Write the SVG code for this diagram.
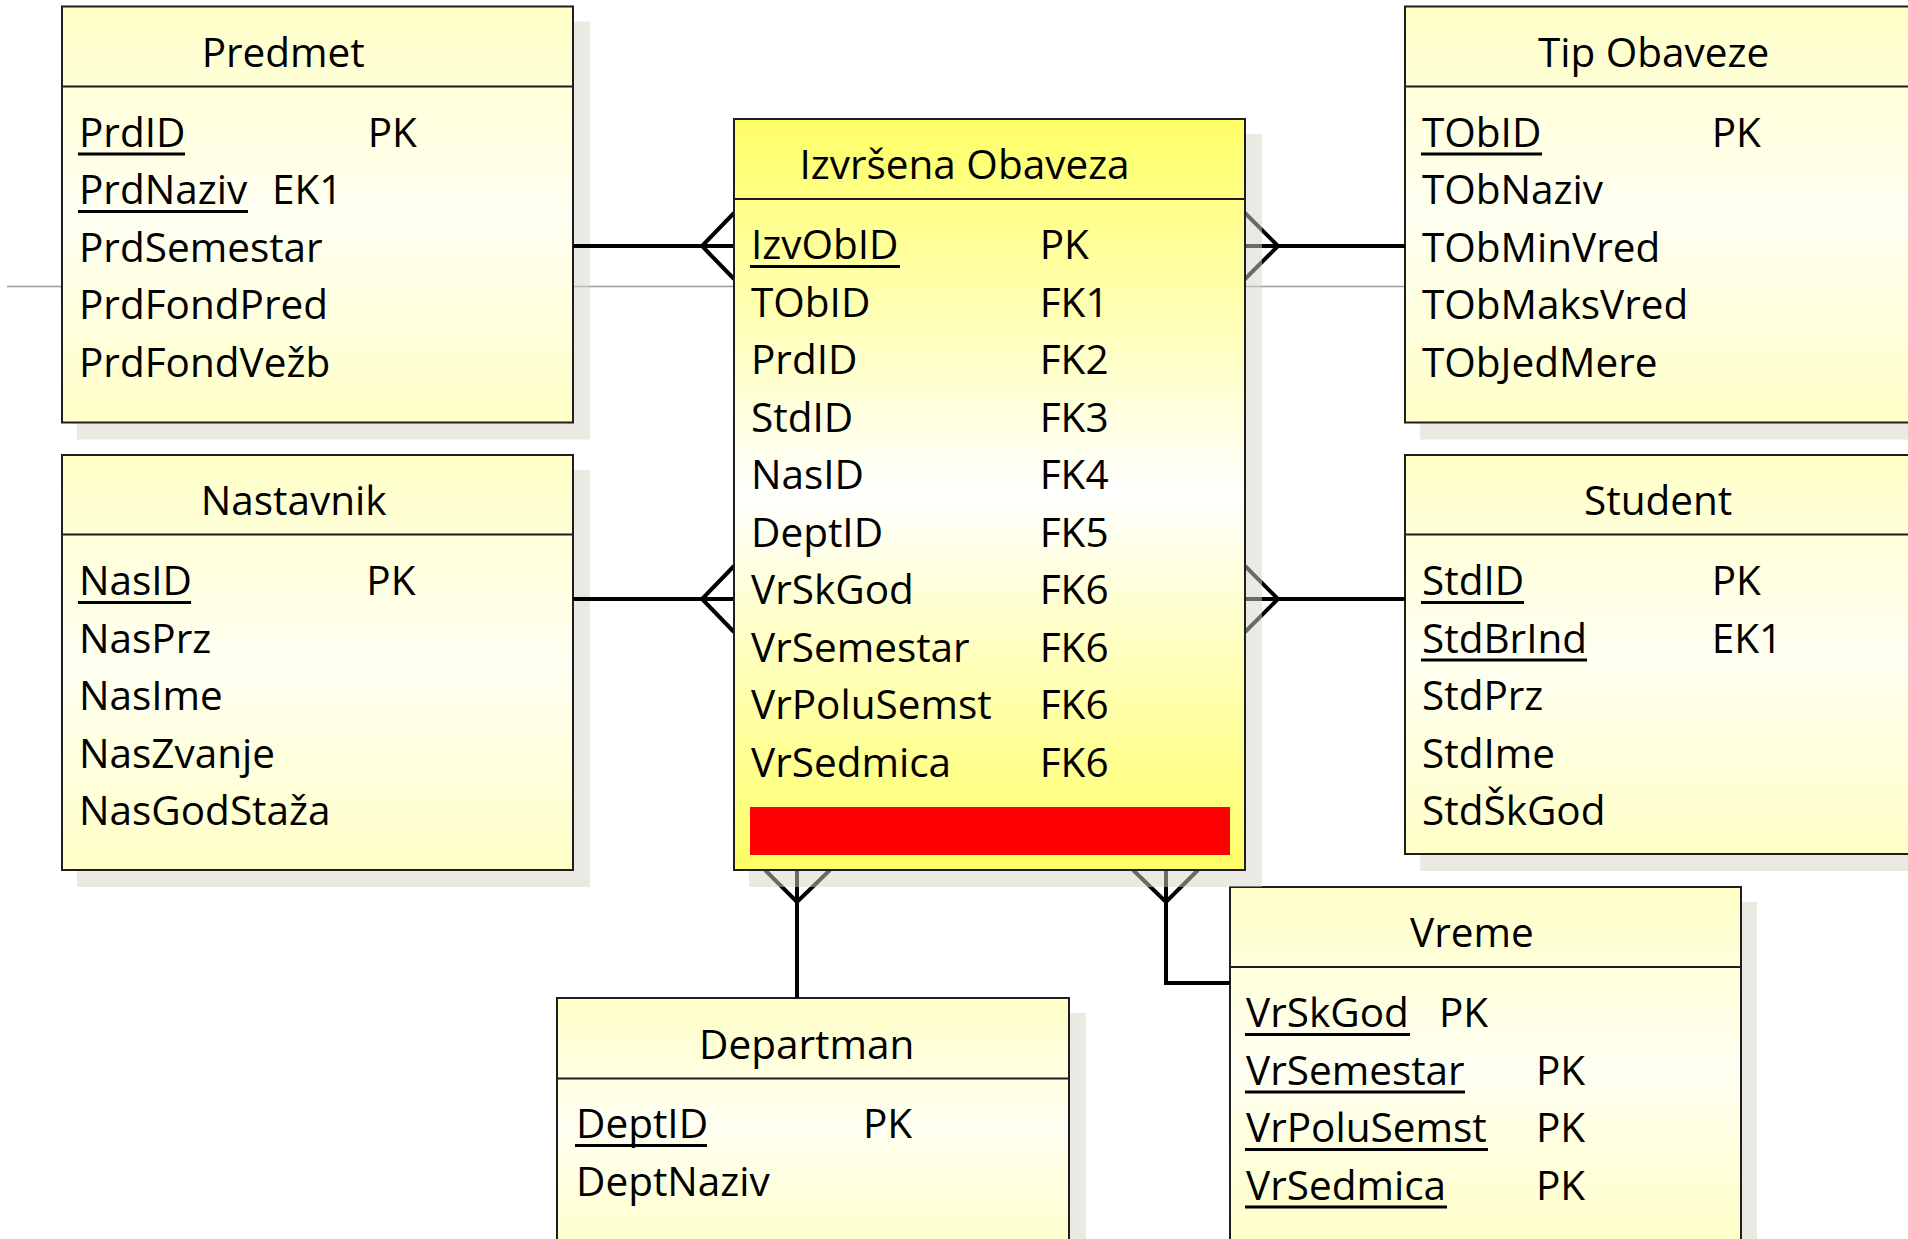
<svg xmlns="http://www.w3.org/2000/svg" width="1908" height="1239" viewBox="0 0 1908 1239">
  <defs>
    <linearGradient id="paleFill" x1="0" y1="0" x2="0" y2="1">
      <stop offset="0" stop-color="#ffffc8"/>
      <stop offset="0.5" stop-color="#fffff2"/>
      <stop offset="1" stop-color="#ffffc8"/>
    </linearGradient>
    <linearGradient id="hotFill" x1="0" y1="0" x2="0" y2="1">
      <stop offset="0" stop-color="#ffff66"/>
      <stop offset="0.5" stop-color="#ffffff"/>
      <stop offset="1" stop-color="#ffff66"/>
    </linearGradient>
    <style>
      .shadow { fill: #d6d6c8; fill-opacity: 0.5; }
      .box { stroke: #1e1e1e; stroke-width: 2; }
      .pale { fill: url(#paleFill); }
      .hot { fill: url(#hotFill); }
      .sep { stroke: #1e1e1e; stroke-width: 2; }
      text { font-family: "Open Sans", "Noto Sans", "DejaVu Sans", sans-serif; font-size: 40.5px; fill: #000; }
      .ul { stroke: #000; stroke-width: 3; }
      .conn { stroke: #000; stroke-width: 4; fill: none; stroke-linejoin: miter; stroke-linecap: butt; }
      .guide { stroke: #9c9c9c; stroke-width: 1.3; }
    </style>
  </defs>

  <rect width="1908" height="1239" fill="#ffffff"/>

  <!-- thin guide line running behind the tables -->
  <line class="guide" x1="7" y1="286.5" x2="1405" y2="286.5"/>

  <!-- Predmet -->
  <g id="predmet">
    <rect class="shadow" x="77" y="21.5" width="513" height="418"/>
    <rect class="box pale" x="62" y="6.5" width="511" height="416"/>
    <line class="sep" x1="62" y1="86.5" x2="573" y2="86.5"/>
    <text x="201.7" y="66.7">Predmet</text>
    <text x="79" y="146.5">PrdID</text>
    <line class="ul" x1="78" y1="154" x2="185" y2="154"/>
    <text x="367.7" y="146.5">PK</text>
    <text x="79" y="204">PrdNaziv</text>
    <line class="ul" x1="78" y1="211.5" x2="248" y2="211.5"/>
    <text x="272" y="204">EK1</text>
    <text x="79" y="261.5">PrdSemestar</text>
    <text x="79" y="319">PrdFondPred</text>
    <text x="79" y="376.5">PrdFondVežb</text>
  </g>

  <!-- Nastavnik -->
  <g id="nastavnik">
    <rect class="shadow" x="77" y="470" width="513" height="417"/>
    <rect class="box pale" x="62" y="455" width="511" height="415"/>
    <line class="sep" x1="62" y1="534.5" x2="573" y2="534.5"/>
    <text x="200.8" y="515">Nastavnik</text>
    <text x="79" y="595">NasID</text>
    <line class="ul" x1="78" y1="602.5" x2="191" y2="602.5"/>
    <text x="366.3" y="595">PK</text>
    <text x="79" y="652.5">NasPrz</text>
    <text x="79" y="710">NasIme</text>
    <text x="79" y="767.5">NasZvanje</text>
    <text x="79" y="825">NasGodStaža</text>
  </g>

  <!-- Tip Obaveze -->
  <g id="tip-obaveze">
    <rect class="shadow" x="1420" y="21.5" width="513" height="418"/>
    <rect class="box pale" x="1405" y="6.5" width="511" height="416"/>
    <line class="sep" x1="1405" y1="86.5" x2="1916" y2="86.5"/>
    <text x="1538" y="66.7">Tip Obaveze</text>
    <text x="1422" y="146.5">TObID</text>
    <line class="ul" x1="1421" y1="154" x2="1542" y2="154"/>
    <text x="1711.7" y="146.5">PK</text>
    <text x="1422" y="204">TObNaziv</text>
    <text x="1422" y="261.5">TObMinVred</text>
    <text x="1422" y="319">TObMaksVred</text>
    <text x="1422" y="376.5">TObJedMere</text>
  </g>

  <!-- Student -->
  <g id="student">
    <rect class="shadow" x="1420" y="470" width="513" height="401"/>
    <rect class="box pale" x="1405" y="455" width="511" height="399"/>
    <line class="sep" x1="1405" y1="534.5" x2="1916" y2="534.5"/>
    <text x="1584" y="515">Student</text>
    <text x="1422" y="595">StdID</text>
    <line class="ul" x1="1421" y1="602.5" x2="1524" y2="602.5"/>
    <text x="1711.7" y="595">PK</text>
    <text x="1422" y="652.5">StdBrInd</text>
    <line class="ul" x1="1421" y1="660" x2="1587" y2="660"/>
    <text x="1711.7" y="652.5">EK1</text>
    <text x="1422" y="710">StdPrz</text>
    <text x="1422" y="767.5">StdIme</text>
    <text x="1422" y="825">StdŠkGod</text>
  </g>

  <!-- Vreme -->
  <g id="vreme">
    <rect class="shadow" x="1244" y="902" width="513" height="362"/>
    <rect class="box pale" x="1230" y="887" width="511" height="360"/>
    <line class="sep" x1="1230" y1="967" x2="1741" y2="967"/>
    <text x="1410" y="947">Vreme</text>
    <text x="1246" y="1027">VrSkGod</text>
    <line class="ul" x1="1245" y1="1034.5" x2="1410" y2="1034.5"/>
    <text x="1439" y="1027">PK</text>
    <text x="1246" y="1084.5">VrSemestar</text>
    <line class="ul" x1="1245" y1="1092" x2="1465" y2="1092"/>
    <text x="1536" y="1084.5">PK</text>
    <text x="1246" y="1142">VrPoluSemst</text>
    <line class="ul" x1="1245" y1="1149.5" x2="1488" y2="1149.5"/>
    <text x="1536" y="1142">PK</text>
    <text x="1246" y="1199.5">VrSedmica</text>
    <line class="ul" x1="1245" y1="1207" x2="1447" y2="1207"/>
    <text x="1536" y="1199.5">PK</text>
  </g>

  <!-- Departman -->
  <g id="departman">
    <rect class="shadow" x="572" y="1013" width="514" height="262"/>
    <rect class="box pale" x="557" y="998" width="512" height="260"/>
    <line class="sep" x1="557" y1="1078.5" x2="1069" y2="1078.5"/>
    <text x="699" y="1059">Departman</text>
    <text x="576" y="1138">DeptID</text>
    <line class="ul" x1="575" y1="1145.5" x2="707" y2="1145.5"/>
    <text x="863" y="1138">PK</text>
    <text x="576" y="1195.5">DeptNaziv</text>
  </g>

  <!-- relationships: one side plain, many side crow's foot at the fact table -->
  <g id="connectors">
    <path class="conn" d="M573,246 H734 M734,213 L702,246 L734,279"/>
    <path class="conn" d="M573,599 H734 M734,566 L702,599 L734,632"/>
    <path class="conn" d="M1405,246 H1245 M1245,213 L1278,246 L1245,279"/>
    <path class="conn" d="M1405,599 H1245 M1245,566 L1278,599 L1245,632"/>
    <path class="conn" d="M797,998 V870 M765,870 L797,902 L830,870"/>
    <path class="conn" d="M1230,983 H1166 V870 M1133,870 L1166,902 L1198,870"/>
  </g>

  <!-- Izvršena Obaveza (fact table) -->
  <g id="izvrsena-obaveza">
    <rect class="shadow" x="749" y="134" width="513" height="753"/>
    <rect class="box hot" x="734" y="119" width="511" height="751"/>
    <line class="sep" x1="734" y1="199" x2="1245" y2="199"/>
    <text x="799.4" y="179">Izvršena Obaveza</text>
    <text x="751" y="259">IzvObID</text>
    <line class="ul" x1="750" y1="266.5" x2="900" y2="266.5"/>
    <text x="1039.7" y="259">PK</text>
    <text x="751" y="316.5">TObID</text>
    <text x="1039.7" y="316.5">FK1</text>
    <text x="751" y="374">PrdID</text>
    <text x="1039.7" y="374">FK2</text>
    <text x="751" y="431.5">StdID</text>
    <text x="1039.7" y="431.5">FK3</text>
    <text x="751" y="489">NasID</text>
    <text x="1039.7" y="489">FK4</text>
    <text x="751" y="546.5">DeptID</text>
    <text x="1039.7" y="546.5">FK5</text>
    <text x="751" y="604">VrSkGod</text>
    <text x="1039.7" y="604">FK6</text>
    <text x="751" y="661.5">VrSemestar</text>
    <text x="1039.7" y="661.5">FK6</text>
    <text x="751" y="719">VrPoluSemst</text>
    <text x="1039.7" y="719">FK6</text>
    <text x="751" y="776.5">VrSedmica</text>
    <text x="1039.7" y="776.5">FK6</text>
    <rect x="750" y="807" width="480" height="48" fill="#ff0000"/>
  </g>
</svg>
